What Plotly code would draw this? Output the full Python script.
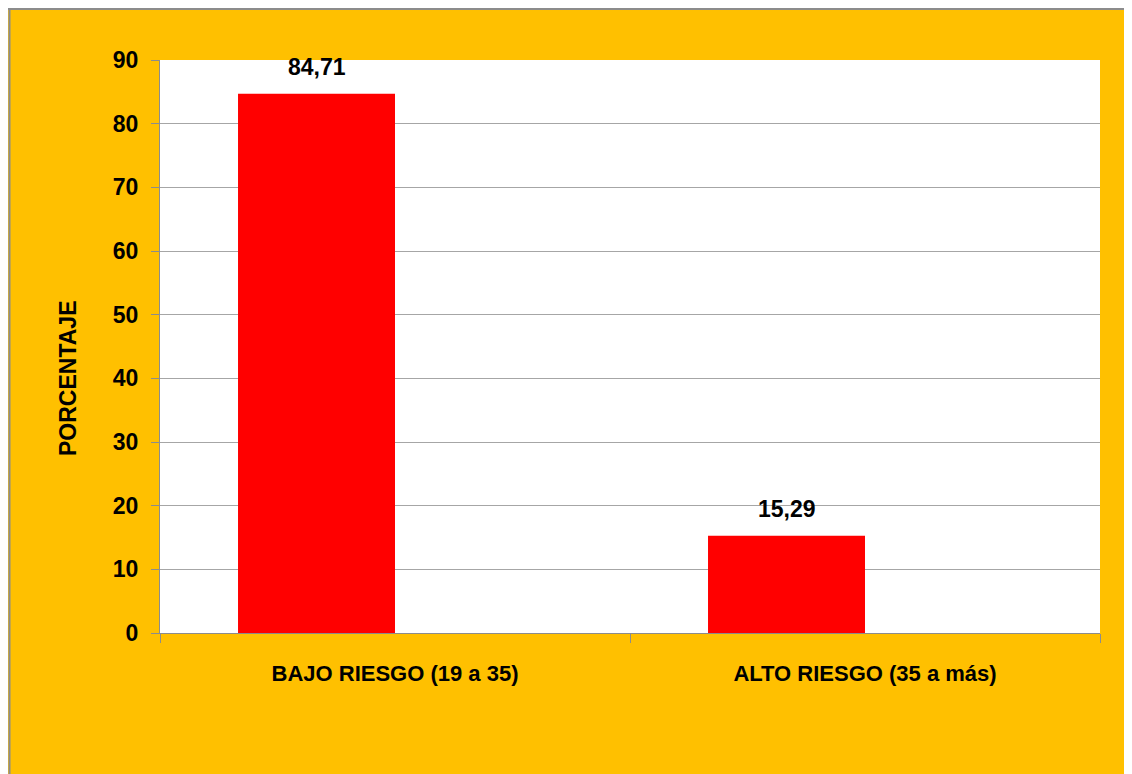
import plotly.graph_objects as go

categories = ["BAJO RIESGO (19 a 35)", "ALTO RIESGO (35 a más)"]
values = [84.71, 15.29]
y_ticks = [0, 10, 20, 30, 40, 50, 60, 70, 80, 90]

# figure is placed at (8,8) in the page by the browser's body margin
W, H = 1124, 766
L, R, T, B = 152, 1092, 52, 625
pw, ph = R - L, B - T

def px(x):
    return (x - L) / pw

def py(y):
    return (B - y) / ph

orange = "#FFC000"
gray = "#8C8C8C"
font = "Liberation Sans, Arial"

BAR_W = 0.334

fig = go.Figure()
fig.add_trace(go.Bar(
    x=categories, y=values, width=BAR_W, offset=-BAR_W,
    marker=dict(color="#FF0000", line=dict(width=0)),
    hoverinfo="skip",
))

for i, v in enumerate(values):
    fig.add_annotation(
        x=i - BAR_W / 2, y=v, xref="x", yref="y",
        text=f"{v:.2f}".replace(".", ","),
        showarrow=False, yanchor="bottom", yshift=12,
        font=dict(family=font, size=23, color="black", weight="bold"),
    )

fig.add_annotation(
    x=px(68 - 8), y=py(378 - 8), xref="paper", yref="paper",
    text="PORCENTAJE", textangle=-90, showarrow=False,
    xanchor="center", yanchor="middle",
    font=dict(family=font, size=23, color="black", weight="bold"),
)

shapes = [
    dict(type="line", xref="paper", yref="paper", x0=px(1.5), x1=px(1.5), y0=py(0), y1=py(H + 5),
         line=dict(color=gray, width=2)),
    dict(type="line", xref="paper", yref="paper", x0=px(0), x1=px(W + 5), y0=py(1), y1=py(1),
         line=dict(color=gray, width=2)),
]

fig.update_layout(
    width=W, height=H,
    margin=dict(l=L, r=W - R, t=T, b=H - B, pad=0),
    paper_bgcolor=orange, plot_bgcolor="white",
    showlegend=False,
    shapes=shapes,
    font=dict(family=font, color="black"),
    xaxis=dict(
        showline=True, linecolor=gray, linewidth=1,
        ticks="outside", tickson="boundaries", ticklen=9, tickcolor=gray,
        tickfont=dict(family=font, size=22, color="black", weight="bold"),
        ticklabelstandoff=21,
        showgrid=False,
    ),
    yaxis=dict(
        range=[0, 90], tickvals=y_ticks,
        showline=True, linecolor=gray, linewidth=1,
        ticks="outside", ticklen=8, tickcolor=gray,
        tickfont=dict(family=font, size=23, color="black", weight="bold"),
        ticklabelstandoff=8,
        showgrid=True, gridcolor="#A6A6A6", gridwidth=1,
        zeroline=False,
    ),
)

fig.write_html("out.html")
